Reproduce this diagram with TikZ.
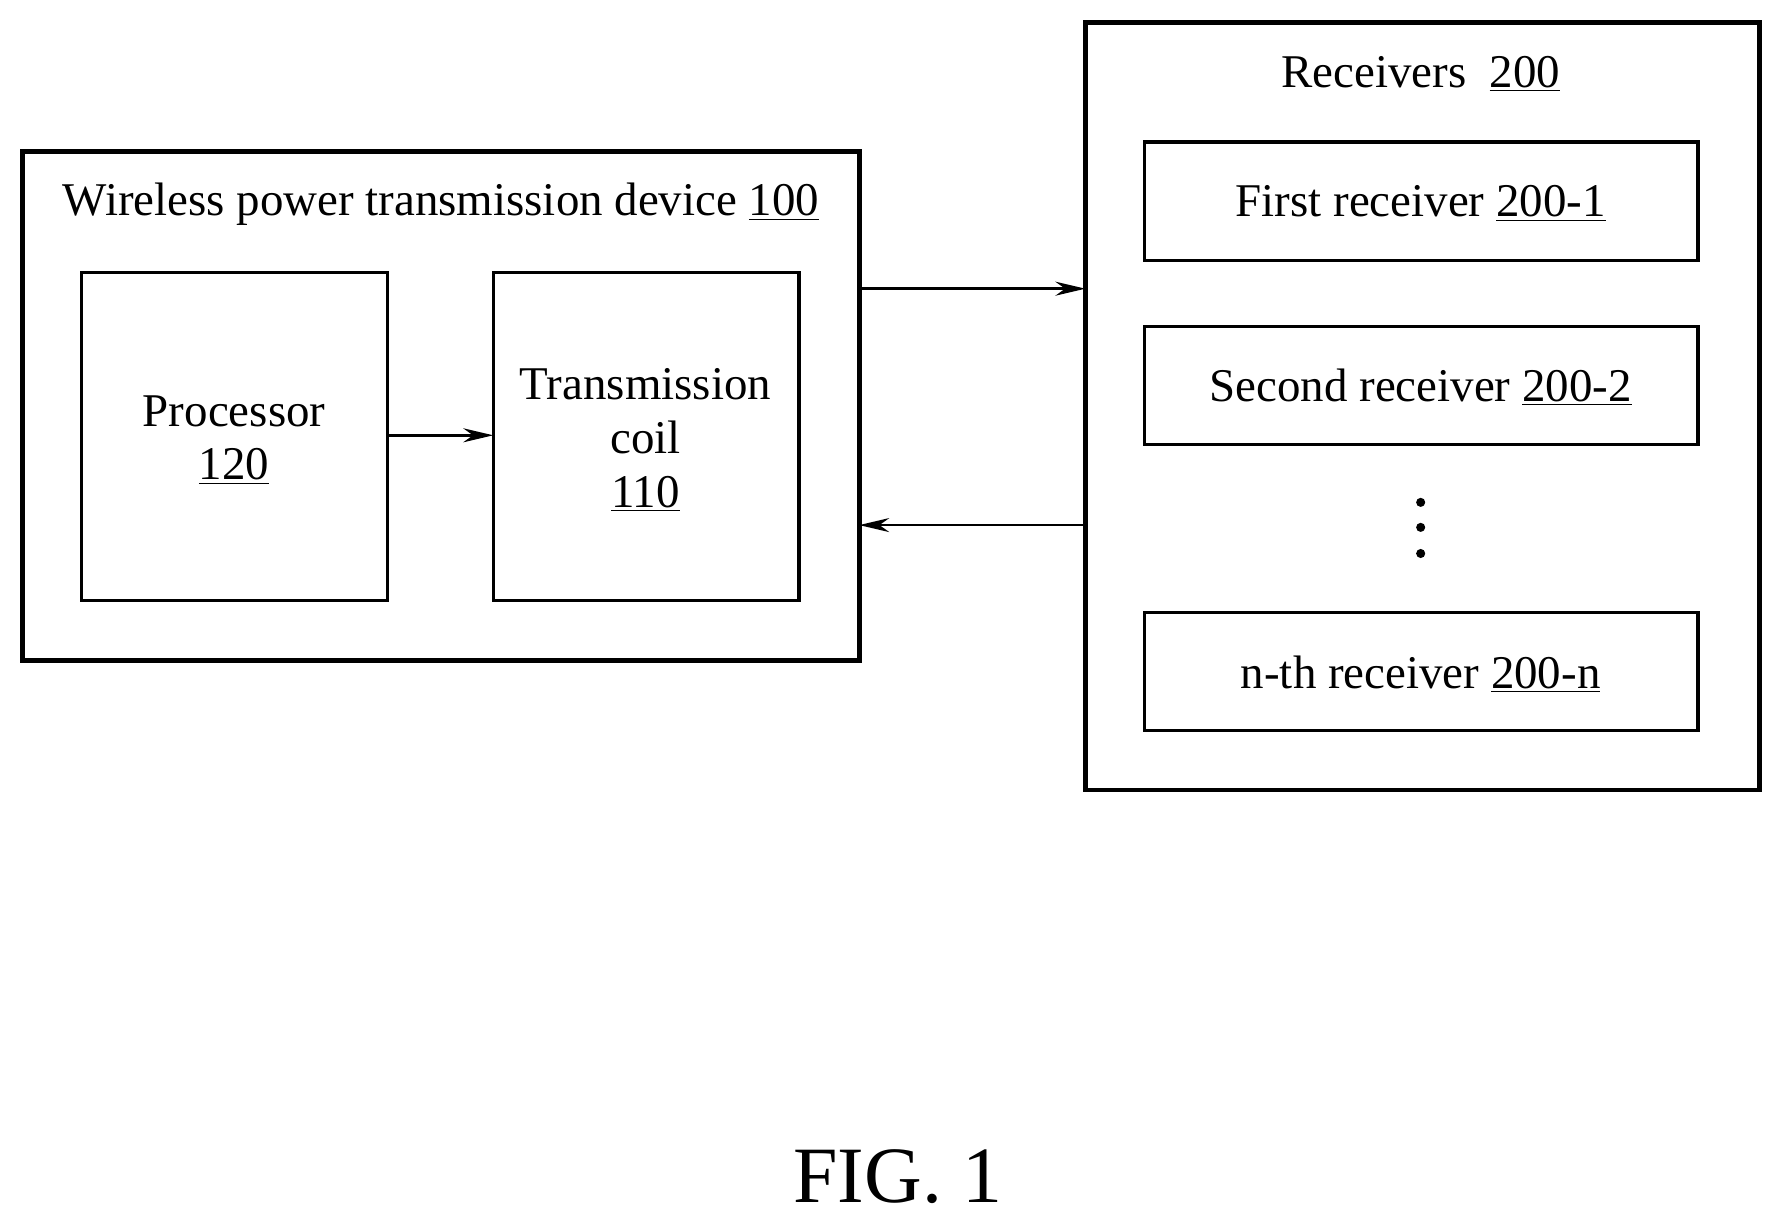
\documentclass[tikz,border=0pt]{standalone}
\usepackage{fontspec}
\setmainfont{Liberation Serif}
\usetikzlibrary{arrows.meta}
\begin{document}
\begin{tikzpicture}[x=0.02cm,y=-0.02cm,
  outer/.style={draw,line width=2.4pt},
  inner/.style={draw,line width=1.6pt},
  txt/.style={font=\fontsize{23.5}{27}\selectfont,align=center},
  arr/.style={line width=1.4pt,-{Stealth[length=15pt,width=7pt]}}]
\useasboundingbox (0,0) rectangle (1560,1072);
\draw[outer] (20,133) rectangle (756,581);
\node[txt] (devt) at (388,180) {Wireless power transmission device \underline{100}};
\draw[inner] (72,240) rectangle (341,528);
\node[txt] (proc) at (206,387) {Processor\\\underline{120}};
\draw[inner] (434,240) rectangle (703,528);
\node[txt] (coil) at (568,387) {Transmission\\coil\\\underline{110}};
\coordinate (p1) at (341,383); \coordinate (c1) at (434,383);
\draw[arr] (p1) -- (c1);
\draw[outer] (955,20) rectangle (1548,695);
\node[txt] (rt) at (1250,65) {Receivers\ \ \underline{200}};
\draw[inner] (1007,125) rectangle (1494,229);
\node[txt] (r1) at (1250,179) {First receiver \underline{200-1}};
\draw[inner] (1007,287) rectangle (1494,391);
\node[txt] (r2) at (1250,341) {Second receiver \underline{200-2}};
\draw[inner] (1007,539) rectangle (1494,643);
\node[txt] (rn) at (1250,593) {n-th receiver \underline{200-n}};
\foreach \y in {442,464,487} \fill (1250,\y) circle (4);
\coordinate (a1) at (756,254); \coordinate (a2) at (955,254);
\coordinate (b1) at (955,462); \coordinate (b2) at (756,462);
\draw[arr] (a1) -- (a2);
\draw[arr] (b1) -- (b2);
\node[font=\fontsize{40}{46}\selectfont] (fig) at (790,1035) {FIG. 1};
\end{tikzpicture}
\end{document}
